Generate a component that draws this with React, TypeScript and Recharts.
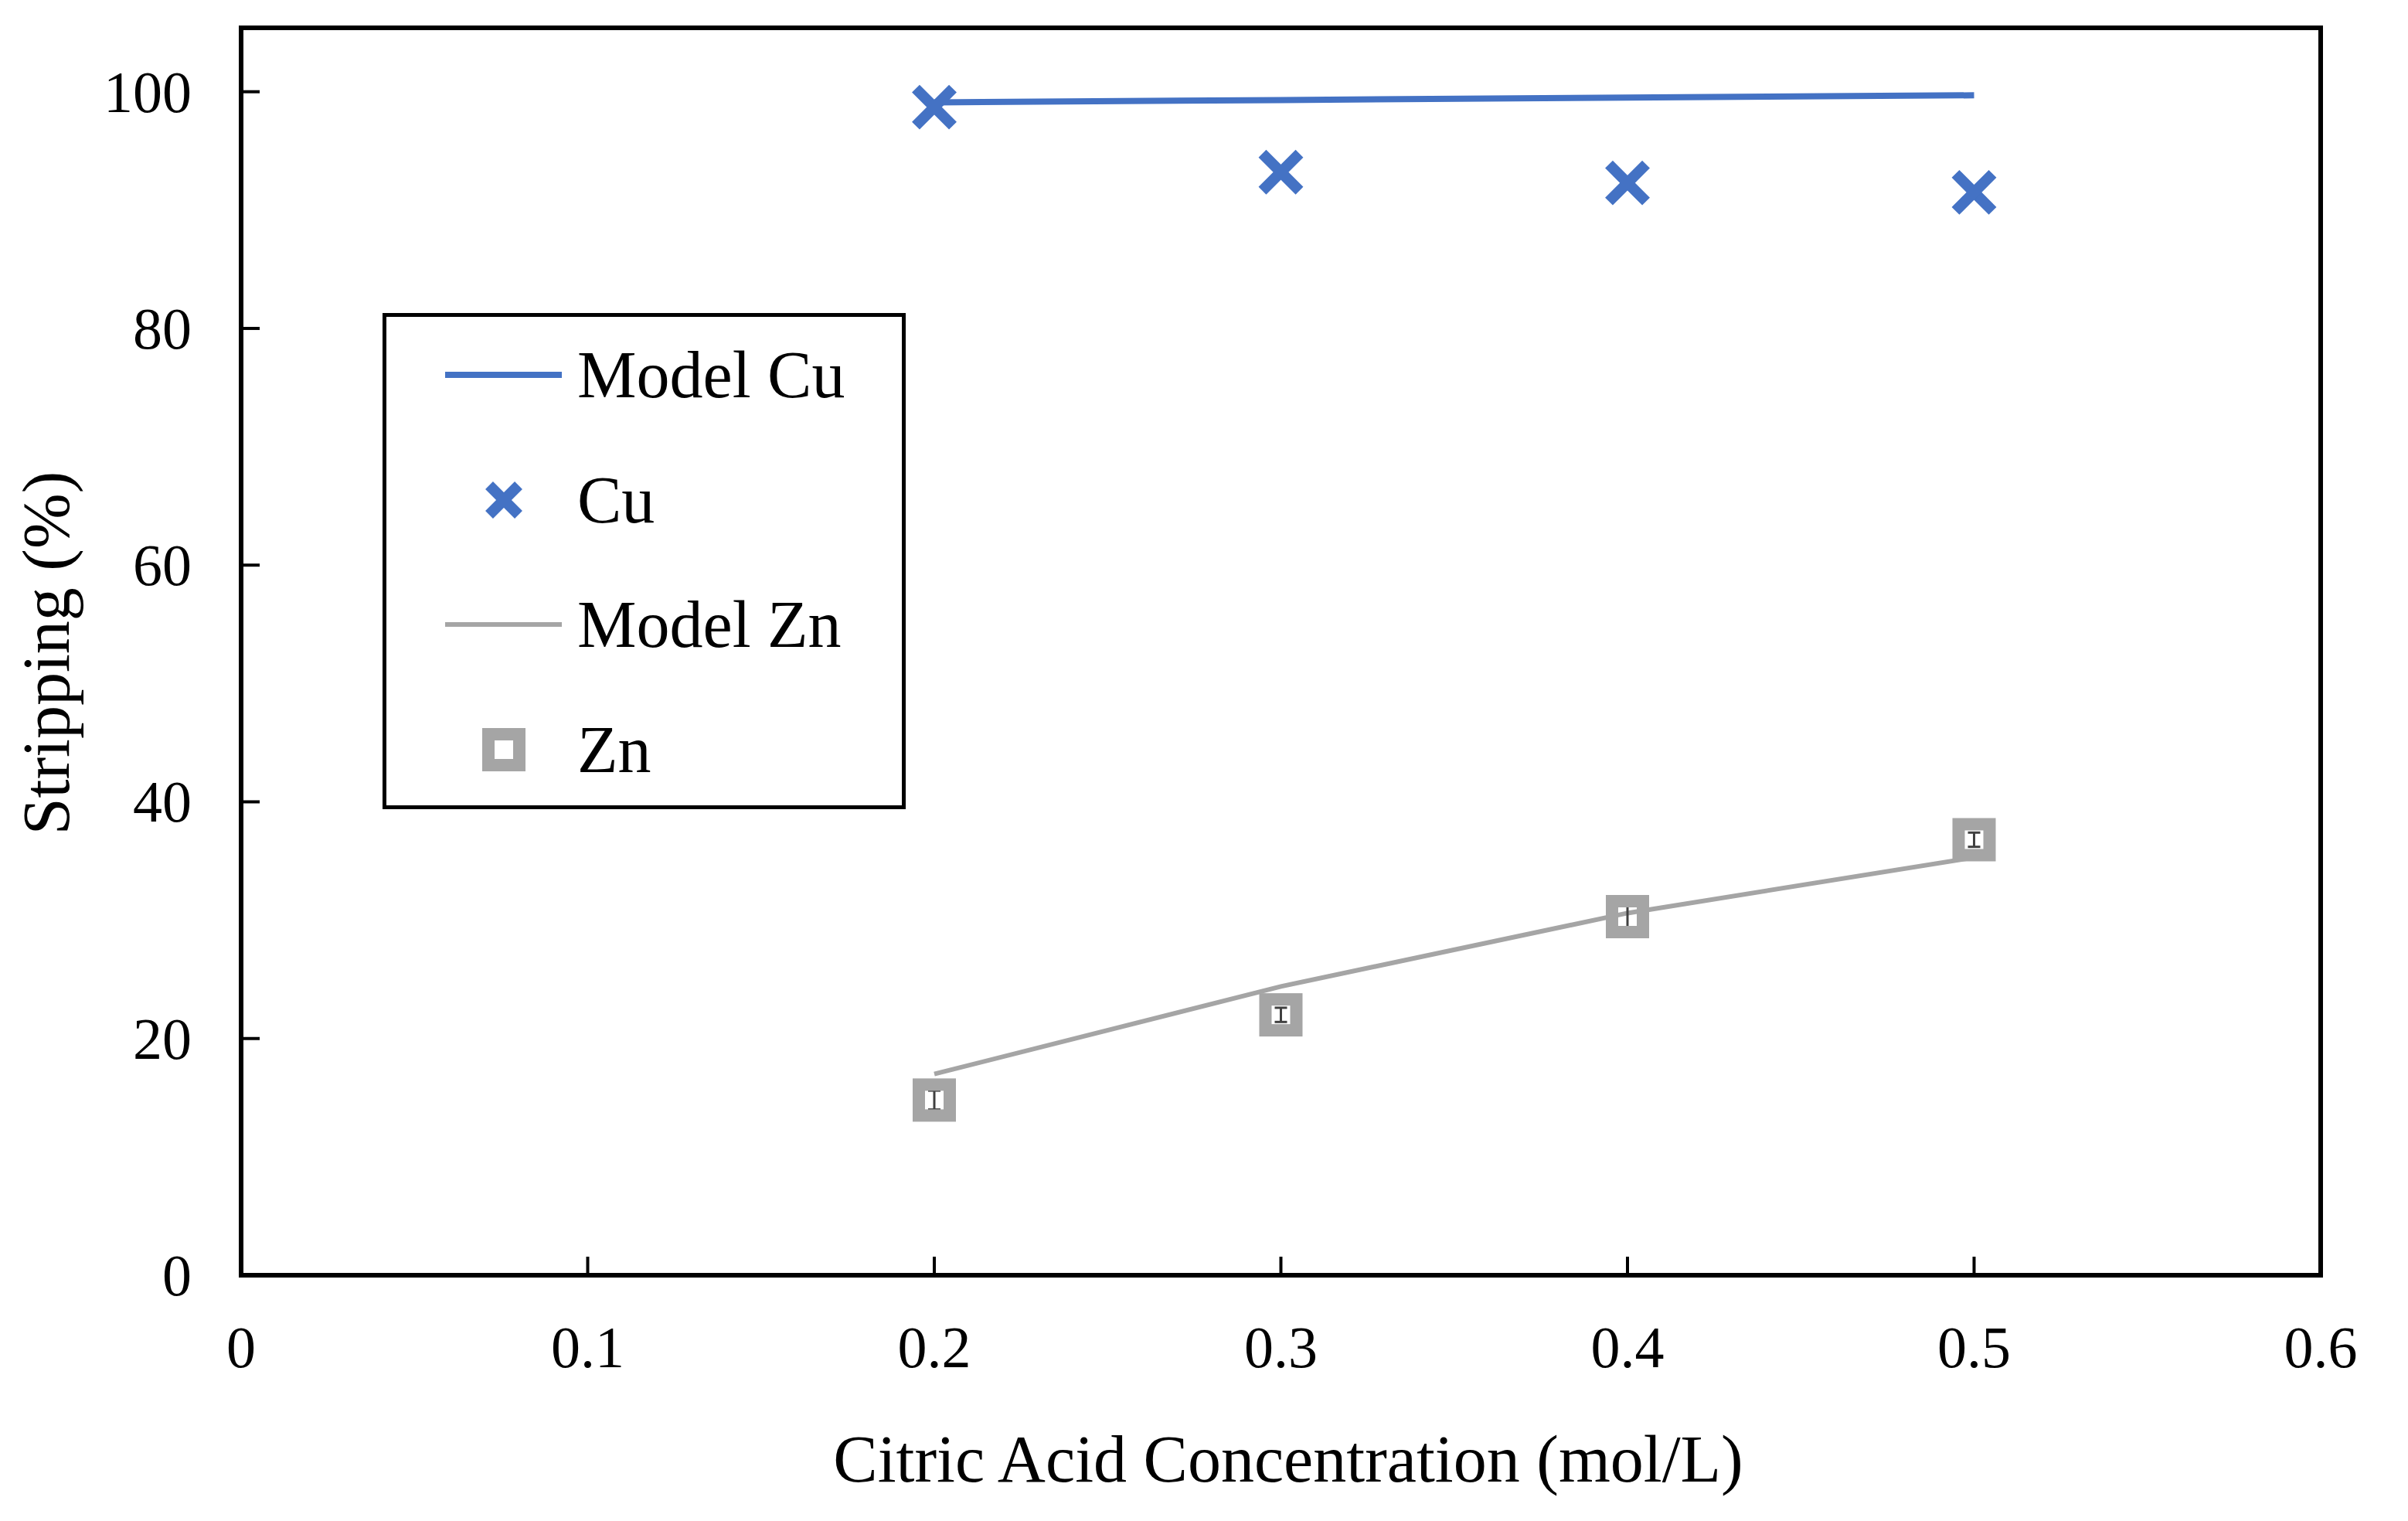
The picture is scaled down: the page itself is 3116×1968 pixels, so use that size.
import { ComposedChart, ErrorBar, Label, Legend, Line, ReferenceArea, Scatter, XAxis, YAxis } from 'recharts'

const concentrations = [0.2, 0.3, 0.4, 0.5]
const modelCu = [99.1, 99.3, 99.5, 99.7]
const cuStripping = [98.7, 93.2, 92.3, 91.5]
const modelZn = [17.0, 24.4, 30.6, 35.3]
const znStripping = [14.8, 22.0, 30.3, 36.8]
const znError = [0.8, 0.6, 1.0, 0.6]

const xTicks = [0, 0.1, 0.2, 0.3, 0.4, 0.5, 0.6]
const yTicks = [0, 20, 40, 60, 80, 100]
const Y_MAX = 105.4

const BLUE = '#4472C4'
const GRAY = '#A5A5A5'
const FONT = '"Liberation Serif", "Times New Roman", serif'

const W = 3116
const H = 1968
const PLOT_LEFT = 312
const PLOT_RIGHT = 3003
const PLOT_TOP = 36
const PLOT_BOTTOM = 1650

const cuModelRows = concentrations.map((x, i) => ({ x, y: modelCu[i] }))
const cuRows = concentrations.map((x, i) => ({ x, y: cuStripping[i] }))
const znModelRows = concentrations.map((x, i) => ({ x, y: modelZn[i] }))
const znRows = concentrations.map((x, i) => ({ x, y: znStripping[i], err: znError[i] }))

const CrossMark = ({ cx, cy, size = 24 }: { cx?: number; cy?: number; size?: number }) => {
  if (cx == null || cy == null) return null
  return (
    <g stroke={BLUE} strokeWidth={14}>
      <line x1={cx - size} y1={cy - size} x2={cx + size} y2={cy + size} />
      <line x1={cx - size} y1={cy + size} x2={cx + size} y2={cy - size} />
    </g>
  )
}

const SquareMark = ({ cx, cy }: { cx?: number; cy?: number }) => {
  if (cx == null || cy == null) return null
  return <rect x={cx - 20} y={cy - 20} width={40} height={40} fill="none" stroke={GRAY} strokeWidth={16} />
}

const YTick = (props: any) => {
  const { y, payload } = props
  return (
    <g>
      <line x1={PLOT_LEFT} y1={y} x2={PLOT_LEFT + 24} y2={y} stroke="#000" strokeWidth={4} />
      <text x={248} y={y} textAnchor="end" dominantBaseline="central" fontSize={76} fontFamily={FONT} fill="#000">
        {payload.value}
      </text>
    </g>
  )
}

const XTick = (props: any) => {
  const { x, payload } = props
  return (
    <g>
      <line x1={x} y1={PLOT_BOTTOM} x2={x} y2={PLOT_BOTTOM - 24} stroke="#000" strokeWidth={4} />
      <text x={x} y={1743} textAnchor="middle" dominantBaseline="central" fontSize={76} fontFamily={FONT} fill="#000">
        {payload.value}
      </text>
    </g>
  )
}

const legendItems = [
  { name: 'Model Cu', kind: 'line', color: BLUE, width: 8 },
  { name: 'Cu', kind: 'cross', color: BLUE, width: 0 },
  { name: 'Model Zn', kind: 'line', color: GRAY, width: 6 },
  { name: 'Zn', kind: 'square', color: GRAY, width: 0 },
]

const LegendBox = () => (
  <div
    style={{
      position: 'relative',
      width: 677,
      height: 642,
      boxSizing: 'border-box',
      border: '5px solid #000',
      background: '#fff',
      fontFamily: FONT,
      fontSize: 86,
      color: '#000',
    }}
  >
    {legendItems.map((item, i) => (
      <div key={item.name} style={{ position: 'absolute', left: 0, top: 161.5 * i, height: 150, width: 667 }}>
        <svg width={240} height={150} style={{ position: 'absolute', left: 0, top: 0 }}>
          {item.kind === 'line' && (
            <line x1={76} y1={75} x2={227} y2={75} stroke={item.color} strokeWidth={item.width} />
          )}
          {item.kind === 'cross' && <CrossMark cx={152} cy={75} size={19} />}
          {item.kind === 'square' && <SquareMark cx={152} cy={75} />}
        </svg>
        <div style={{ position: 'absolute', left: 247, top: 0, height: 150, lineHeight: '150px', whiteSpace: 'nowrap' }}>
          {item.name}
        </div>
      </div>
    ))}
  </div>
)

export default function App() {
  return (
    <div style={{ position: 'fixed', left: 0, top: 0, width: W, height: H, background: '#fff' }}>
      <ComposedChart
        width={W}
        height={H}
        margin={{ top: PLOT_TOP, right: W - PLOT_RIGHT, left: 0, bottom: 0 }}
      >
        <XAxis
          type="number"
          dataKey="x"
          domain={[0, 0.6]}
          ticks={xTicks}
          height={H - PLOT_BOTTOM}
          axisLine={false}
          tickLine={false}
          tick={<XTick />}
          interval={0}
          allowDataOverflow
        >
          <Label
            content={() => (
              <text
                x={1667}
                y={1888}
                textAnchor="middle"
                dominantBaseline="central"
                fontSize={86}
                fontFamily={FONT}
                fill="#000"
              >
                Citric Acid Concentration (mol/L)
              </text>
            )}
          />
        </XAxis>
        <YAxis
          type="number"
          domain={[0, Y_MAX]}
          ticks={yTicks}
          width={PLOT_LEFT}
          axisLine={false}
          tickLine={false}
          tick={<YTick />}
          interval={0}
          allowDataOverflow
        >
          <Label
            content={() => (
              <text
                x={60}
                y={845}
                transform="rotate(-90 60 845)"
                textAnchor="middle"
                dominantBaseline="central"
                fontSize={86}
                fontFamily={FONT}
                fill="#000"
              >
                Stripping (%)
              </text>
            )}
          />
        </YAxis>
        <Line
          data={cuModelRows}
          dataKey="y"
          name="Model Cu"
          stroke={BLUE}
          strokeWidth={8}
          dot={false}
          activeDot={false}
          isAnimationActive={false}
        />
        <Line
          data={znModelRows}
          dataKey="y"
          name="Model Zn"
          stroke={GRAY}
          strokeWidth={6}
          dot={false}
          activeDot={false}
          isAnimationActive={false}
        />
        <Scatter data={cuRows} dataKey="y" name="Cu" shape={(p: any) => <CrossMark cx={p.cx} cy={p.cy} />} isAnimationActive={false} />
        <Scatter data={znRows} dataKey="y" name="Zn" shape={(p: any) => <SquareMark cx={p.cx} cy={p.cy} />} isAnimationActive={false}>
          <ErrorBar dataKey="err" direction="y" width={8} stroke="#404040" strokeWidth={3} isAnimationActive={false} />
        </Scatter>
        <ReferenceArea x1={0} x2={0.6} y1={0} y2={Y_MAX} fill="none" stroke="#000" strokeWidth={6} ifOverflow="visible" />
        <Legend
          layout="vertical"
          align="center"
          verticalAlign="middle"
          wrapperStyle={{ left: 495, top: 405, width: 677, height: 642 }}
          content={() => <LegendBox />}
        />
      </ComposedChart>
    </div>
  )
}
